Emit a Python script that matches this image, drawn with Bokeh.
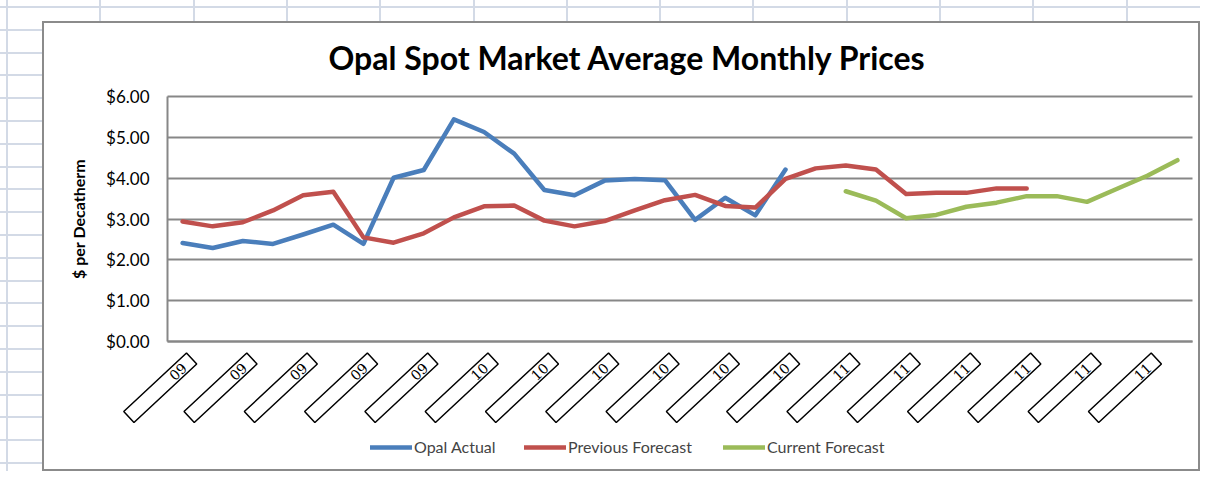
import math
from bokeh.plotting import figure
from bokeh.models import Label, Legend, LegendItem, FixedTicker, NumeralTickFormatter, Range1d, Grid
from bokeh.embed import file_html
from bokeh.resources import INLINE

# ---------------- data ----------------
title_text = "Opal Spot Market Average Monthly Prices"
y_axis_title = "$ per Decatherm"
x_tick_labels = ["09", "09", "09", "09", "09",
                 "10", "10", "10", "10", "10", "10",
                 "11", "11", "11", "11", "11", "11"]
n_periods = 34
opal_actual = [2.41, 2.29, 2.46, 2.39, 2.62, 2.86, 2.39, 4.01, 4.20, 5.44,
               5.13, 4.60, 3.71, 3.58, 3.94, 3.98, 3.95, 2.98, 3.52, 3.09, 4.21]
previous_forecast = [2.94, 2.82, 2.92, 3.21, 3.58, 3.67, 2.55, 2.42, 2.65, 3.04,
                     3.31, 3.33, 2.96, 2.82, 2.95, 3.21, 3.46, 3.59, 3.32, 3.28,
                     3.98, 4.24, 4.31, 4.21, 3.61, 3.64, 3.64, 3.75, 3.75]
current_forecast_start = 22
current_forecast = [3.68, 3.45, 3.02, 3.10, 3.30, 3.40, 3.56, 3.56, 3.42, 3.74, 4.06, 4.44]
y_ticks = [0, 1, 2, 3, 4, 5, 6]
y_min, y_max = 0, 6

BLUE = "#4A7EBB"
RED = "#C0504D"
GREEN = "#9BBB59"
GRID = "#878787"
SHEET = "#d3dae6"

# ---------------- layout (pixels) ----------------
W, H = 1200, 471
PLOT_L, PLOT_R, PLOT_T, PLOT_B = 167, 1192, 96, 341
sx = (PLOT_R - PLOT_L) / n_periods
sy = (PLOT_B - PLOT_T) / (y_max - y_min)


def dx(px):
    return (px - PLOT_L) / sx


def dy(py):
    return (PLOT_B - py) / sy


p = figure(width=W, height=H, output_backend="svg", toolbar_location=None,
           x_range=Range1d(dx(0), dx(W)), y_range=Range1d(dy(H), dy(0)),
           min_border=0)
p.title.visible = False
p.border_fill_color = None
p.background_fill_color = None
p.outline_line_color = None

# spreadsheet look behind the chart (pure decoration)
p.styles = {
    "background-image": ", ".join([
        "linear-gradient(#ffffff, #ffffff)",
        "linear-gradient(#8b8b8b, #8b8b8b)",
        f"repeating-linear-gradient(to right, transparent 0px, transparent 6px, {SHEET} 6px, {SHEET} 8px, transparent 8px, transparent 93.3px)",
        f"repeating-linear-gradient(to bottom, transparent 0px, transparent 6px, {SHEET} 6px, {SHEET} 8px, transparent 8px, transparent 22.8px)",
    ]),
    "background-position": "44px 23px, 42px 21px, 0px 0px, 0px 0px",
    "background-size": "1154px 446px, 1158px 450px, 100% 100%, 100% 100%",
    "background-repeat": "no-repeat, no-repeat, no-repeat, no-repeat",
}

xs_a = [i + 0.5 for i in range(len(opal_actual))]
xs_p = [i + 0.5 for i in range(len(previous_forecast))]
xs_c = [current_forecast_start + i + 0.5 for i in range(len(current_forecast))]

# grid lines (restricted to plot area)
p.xgrid.visible = False
if "cross_bounds" in Grid.properties():
    p.ygrid.ticker = FixedTicker(ticks=y_ticks)
    p.ygrid.bounds = (y_min, y_max)
    p.ygrid.cross_bounds = (0, n_periods)
    p.ygrid.grid_line_color = GRID
    p.ygrid.grid_line_width = 2
else:
    p.ygrid.visible = False
    p.segment(x0=[0] * len(y_ticks), y0=y_ticks, x1=[n_periods] * len(y_ticks), y1=y_ticks,
              line_color=GRID, line_width=2)

r_a = p.line(xs_a, opal_actual, line_color=BLUE, line_width=4.5, line_join="round", line_cap="round")
r_p = p.line(xs_p, previous_forecast, line_color=RED, line_width=4.5, line_join="round", line_cap="round")
r_c = p.line(xs_c, current_forecast, line_color=GREEN, line_width=4.5, line_join="round", line_cap="round")

# y axis fixed at x = 0
p.yaxis.fixed_location = 0
p.yaxis.bounds = (y_min, y_max)
p.yaxis.ticker = FixedTicker(ticks=y_ticks)
p.yaxis.formatter = NumeralTickFormatter(format="$0.00")
p.yaxis.major_tick_line_color = None
p.yaxis.minor_tick_line_color = None
p.yaxis.major_tick_out = 0
p.yaxis.major_tick_in = 0
p.yaxis.major_label_standoff = 18
p.yaxis.major_label_text_font = "Lato"
p.yaxis.major_label_text_font_size = "17px"
p.yaxis.major_label_text_color = "black"
p.yaxis.axis_line_color = GRID
p.yaxis.axis_line_width = 2
p.yaxis.axis_label = y_axis_title
p.yaxis.axis_label_text_font = "Lato"
p.yaxis.axis_label_text_font_size = "16px"
p.yaxis.axis_label_text_font_style = "bold"
p.yaxis.axis_label_text_color = "black"
p.yaxis.axis_label_standoff = 15

# x axis fixed at y = 0 (labels drawn as boxed rotated labels below)
p.xaxis.fixed_location = 0
p.xaxis.bounds = (0, n_periods)
p.xaxis.ticker = FixedTicker(ticks=[])
p.xaxis.major_tick_line_color = None
p.xaxis.minor_tick_line_color = None
p.xaxis.axis_line_color = GRID
p.xaxis.axis_line_width = 2

for k, lab in enumerate(x_tick_labels):
    p.add_layout(Label(x=2 * k + 0.8, y=dy(358), text=lab, angle=math.radians(43),
                       text_align="right", text_baseline="middle",
                       text_font="DejaVu Serif", text_font_size="14px", text_color="black",
                       border_line_color="black", border_line_width=1.5,
                       padding=dict(left=58, right=10, top=2, bottom=2)))

# title
p.add_layout(Label(x=dx(627), y=dy(57), text=title_text, text_align="center", text_baseline="middle",
                   text_font="Lato", text_font_style="bold", text_font_size="32px", text_color="black"))

# legends (one per item for exact placement); location = bottom-left corner
for r, name, lx in [(r_a, "Opal Actual", 370), (r_p, "Previous Forecast", 524), (r_c, "Current Forecast", 723)]:
    leg = Legend(items=[LegendItem(label=name, renderers=[r])], location=(lx, H - 456),
                 orientation="horizontal", border_line_color=None, background_fill_alpha=0,
                 padding=0, margin=0, glyph_width=42, glyph_height=16, label_height=16,
                 label_standoff=2, label_text_font="Lato", label_text_font_size="16px")
    p.add_layout(leg, "center")

open("out.html", "w").write(file_html(p, INLINE))
